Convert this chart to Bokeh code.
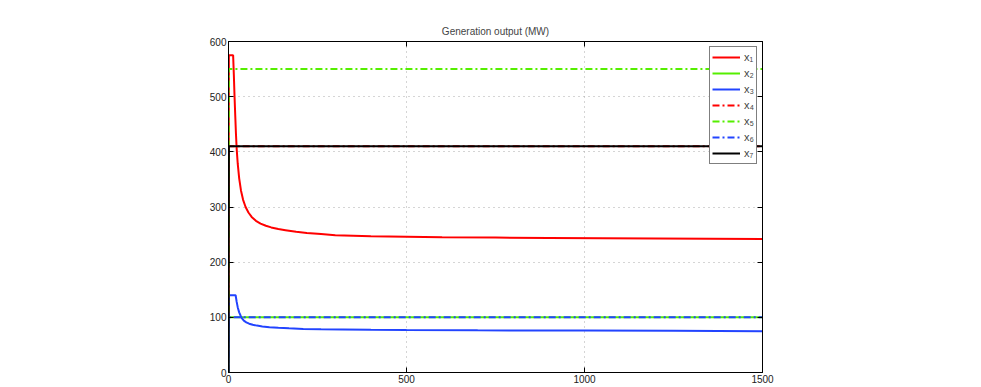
from bokeh.plotting import figure
from bokeh.models import Range1d, LinearAxis, FixedTicker, Legend, LegendItem
from bokeh.embed import file_html
from bokeh.resources import INLINE

# ---- data ----
t_x1 = [0, 1, 13, 15, 17, 19, 21, 23, 26, 30, 35, 41, 48, 56, 65, 77, 90, 105, 120, 140,
        160, 190, 220, 260, 300, 400, 500, 600, 750, 900, 1050, 1200, 1350, 1500]
x1 = [0, 575, 575, 540, 500, 465, 432, 405, 378, 352, 330, 313, 300, 290, 282, 275, 270, 266,
      263, 260, 258, 255, 253, 251, 249, 247, 246, 245, 244.5, 244, 243.5, 243, 242.5, 242]
t_x3 = [0, 1, 20, 23, 26, 30, 34, 38, 43, 50, 58, 68, 80, 95, 115, 140, 170, 210, 260,
        320, 400, 500, 700, 1000, 1250, 1500]
x3 = [0, 140, 140, 128, 118, 109, 103, 98, 94, 91, 88.5, 86.5, 85, 83.5, 82, 81, 80, 79,
      78.3, 77.8, 77.3, 77, 76.5, 76, 75.5, 75]
t_const = [0, 1, 1500]
x2 = [0, 100, 100]
x4 = [0, 410, 410]
x5 = [0, 550, 550]
x6 = [0, 100, 100]
x7 = [0, 410, 410]
x_ticks = [0, 500, 1000, 1500]
y_ticks = [0, 100, 200, 300, 400, 500, 600]
labels = ["x\u2081", "x\u2082", "x\u2083", "x\u2084", "x\u2085", "x\u2086", "x\u2087"]

FONT = "Liberation Sans"
RED, GREEN, BLUE, BLACK = "#ff0000", "#55ee00", "#2244ff", "#000000"
DASHDOT = "7 3 2 3"

p = figure(width=975, height=385, output_backend="svg", toolbar_location=None,
           x_range=Range1d(0, 1500), y_range=Range1d(0, 600),
           min_border_left=228, min_border_right=213, min_border_top=41, min_border_bottom=13)
p.title.text = "Generation output (MW)"
p.title.align = "center"
p.title.text_font = FONT
p.title.text_font_style = "normal"
p.title.text_font_size = "10px"
p.title.offset = 0

p.outline_line_color = "black"
p.outline_line_width = 1
p.background_fill_color = "white"
p.border_fill_color = "white"

for ax in [p.xaxis[0], p.yaxis[0]]:
    ax.major_tick_in = 5
    ax.major_tick_out = 0
    ax.minor_tick_line_color = None
    ax.axis_line_color = "black"
    ax.major_label_text_font = FONT
    ax.major_label_text_font_size = "10px"
    ax.major_label_text_color = "#222222"
    ax.major_label_standoff = 2
p.xaxis.ticker = FixedTicker(ticks=x_ticks)
p.yaxis.ticker = FixedTicker(ticks=y_ticks)

for loc, ticks in [("right", y_ticks), ("above", x_ticks)]:
    ax = LinearAxis(ticker=FixedTicker(ticks=ticks))
    ax.major_tick_in = 5
    ax.major_tick_out = 0
    ax.minor_tick_line_color = None
    ax.major_label_text_color = None
    ax.major_label_text_font_size = "1px"
    ax.major_label_standoff = 0
    p.add_layout(ax, loc)

p.xgrid.ticker = FixedTicker(ticks=x_ticks)
p.ygrid.ticker = FixedTicker(ticks=y_ticks)
for g in [p.xgrid[0], p.ygrid[0]]:
    g.grid_line_color = "#aaaaaa"
    g.grid_line_dash = "1 4"
    g.grid_line_width = 1

r1 = p.line(t_x1, x1, line_color=RED, line_width=2)
r2 = p.line(t_const, x2, line_color=GREEN, line_width=2)
r3 = p.line(t_x3, x3, line_color=BLUE, line_width=2)
r4 = p.line(t_const, x4, line_color=RED, line_width=2, line_dash=DASHDOT)
r5 = p.line(t_const, x5, line_color=GREEN, line_width=2, line_dash=DASHDOT)
r6 = p.line(t_const, x6, line_color=BLUE, line_width=2, line_dash=DASHDOT)
r7 = p.line(t_const, x7, line_color=BLACK, line_width=2)

legend = Legend(items=[LegendItem(label=l, renderers=[r]) for l, r in
                       zip(labels, [r1, r2, r3, r4, r5, r6, r7])],
                location="top_right", margin=5, padding=2, spacing=0,
                label_height=16, label_width=10, glyph_height=16, glyph_width=28,
                label_standoff=4,
                label_text_font=FONT, label_text_font_size="11px",
                border_line_color="black", border_line_width=1,
                background_fill_color="white", background_fill_alpha=1)
p.add_layout(legend, "center")

open("out.html", "w").write(file_html(p, INLINE))
